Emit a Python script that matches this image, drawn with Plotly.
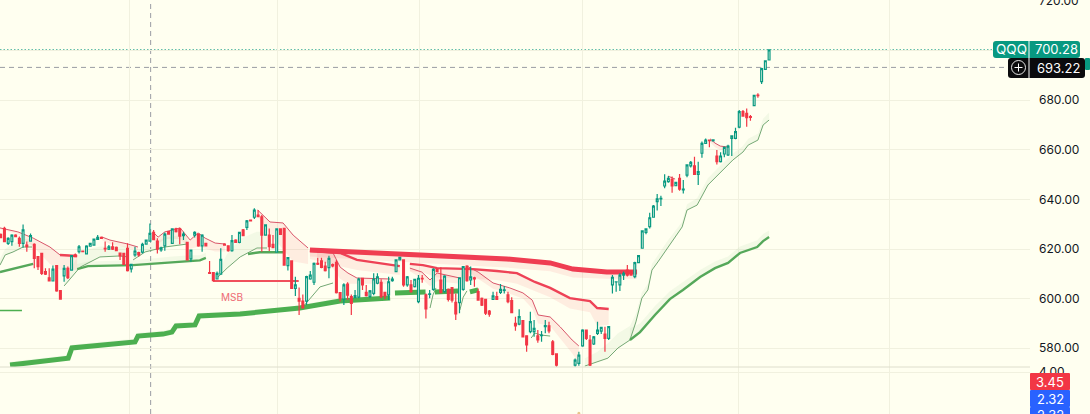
import plotly.graph_objects as go

WIDTH, HEIGHT = 1090, 414
PLOT_RIGHT = 1030
BAR_STEP = 3.73
BAR_ORIGIN = 0.7
PANE_SPLIT = 367

BG = "#fffff0"
GRID = "#f1f1df"
TEAL = "#089981"
RED = "#f23645"
BLUE = "#2962ff"
GREEN = "#4caf50"
THIN_GREEN = "#74a874"
THIN_RED = "#d9566a"
TEXT = "#131722"
FONT = "Inter"

# Daily OHLC for QQQ
opens = [
    625.9,628.3,622.3,623.0,625.6,624.3,622.3,621.6,623.2,621.9,
    616.9,618.2,610.9,608.4,607.1,613.3,603.2,609.2,612.2,611.5,
    617.6,618.9,619.2,618.0,621.1,621.6,623.9,624.7,620.3,619.9,
    620.9,620.7,618.3,618.2,620.3,612.0,617.6,618.5,618.7,622.0,
    623.2,626.7,623.2,619.6,621.3,627.0,622.3,628.1,628.1,625.4,
    622.7,616.0,625.6,626.0,621.3,622.3,610.5,610.5,607.9,609.9,
    622.0,621.3,619.3,623.6,622.7,627.7,628.7,631.7,632.8,633.7,
    633.0,625.6,625.6,621.9,618.7,628.1,628.3,613.3,615.2,604.1,
    600.1,599.0,599.0,607.9,606.6,614.2,615.2,613.1,612.5,613.7,
    614.6,602.4,599.8,605.8,600.8,600.4,600.6,608.2,602.5,600.9,
    602.1,606.2,606.6,602.5,601.5,607.2,610.9,615.6,615.6,605.5,
    605.5,604.8,598.8,608.2,601.5,601.7,603.7,611.8,607.5,602.8,
    603.7,604.4,598.5,598.4,603.7,613.1,607.5,608.4,602.8,600.1,
    599.7,595.0,599.7,600.8,602.5,603.3,601.5,599.2,590.0,589.7,
    591.1,585.0,586.7,586.7,585.0,585.1,588.7,589.0,582.6,577.7,
    571,567,565,566,573.2,573.9,580.9,587.3,583.3,581.7,
    586.0,586.9,585.7,584.0,605.5,606.7,605.5,609.5,611.5,611.3,
    608.9,614.5,620.3,626.7,629.0,632.8,639.1,640.2,645.4,647.2,
    648.1,645.5,648.5,643.8,649.8,653.5,653.5,650.1,658.6,662.6,
    663.9,663.6,657.5,655.2,658.3,657.9,664.6,664.6,669.1,675.4,
    674.7,673.4,677.8,682.1,687.5,692.4,696.2,
]
highs = [
    626.3,629.0,624.7,625.9,625.9,625.0,629.9,623.0,626.3,622.3,
    616.9,618.2,612.2,612.2,613.3,613.5,603.5,613.5,612.9,617.6,
    618.2,621.6,619.4,621.5,622.4,624.2,625.6,625.0,623.0,621.6,
    622.7,621.0,618.4,618.5,622.3,613.8,620.9,618.9,622.5,623.8,
    630.3,627.7,624.3,620.9,626.7,627.2,628.3,628.6,628.6,627.0,
    622.7,619.6,627.2,626.3,625.9,622.5,615.2,610.5,610.9,620.3,
    622.3,621.3,625.6,623.9,627.0,628.1,631.7,631.9,636.4,635.7,
    633.7,629.9,628.3,625.6,628.3,628.3,628.3,616.5,615.2,608.8,
    604.5,601.7,609.2,611.1,614.6,616.5,616.5,614.9,617.3,614.2,
    615.6,602.4,606.2,606.6,601.7,603.5,608.4,608.4,605.5,603.5,
    610.2,610.2,607.8,602.8,608.8,608.8,615.8,616.8,615.8,609.1,
    607.5,607.8,609.5,609.5,602.1,603.5,612.2,612.0,612.6,609.4,
    604.1,604.4,602.1,608.6,613.1,613.4,612.9,608.8,604.1,600.4,
    599.7,595.4,602.8,602.8,605.9,605.1,602.8,600.5,592.7,595.7,
    591.1,585.0,594.7,591.4,587.3,586.9,591.4,590.7,583.3,577.9,
    572,569,568,570,575.9,578.6,587.6,587.3,585.3,584.9,
    590.7,588.7,588.7,588.9,609.5,606.8,610.2,610.9,613.5,611.5,
    614.9,617.3,627.3,628.1,634.6,637.7,642.2,641.5,650.1,649.4,
    649.2,647.0,650.2,647.8,654.1,655.5,657.2,655.2,663.3,664.6,
    664.2,664.1,659.9,659.0,661.3,662.0,665.6,668.9,676.0,676.0,
    676.7,674.0,682.0,682.8,693.1,696.0,700.5,
]
lows = [
    624.3,622.7,621.6,621.3,624.8,620.9,620.5,618.9,623.0,612.2,
    611.5,609.5,609.5,607.1,607.1,602.8,599.7,606.8,607.9,611.5,
    616.9,618.2,618.9,618.0,621.0,621.4,623.6,624.2,618.9,619.6,
    619.6,619.3,615.6,613.5,610.9,610.5,616.9,616.9,618.2,621.8,
    622.9,623.6,618.2,618.9,619.3,626.0,622.0,626.7,621.9,623.6,
    615.6,614.9,624.6,620.9,618.9,621.2,610.0,607.2,607.8,609.9,
    621.6,618.9,618.9,622.7,622.3,625.3,627.7,631.3,632.1,633.0,
    618.9,625.4,619.2,620.5,618.5,625.9,613.3,611.3,603.9,601.0,
    593.4,596.1,597.4,607.6,605.5,613.5,612.2,610.9,608.2,612.6,
    602.1,598.8,597.4,599.4,593.4,600.1,600.1,603.5,600.8,600.1,
    601.4,605.8,600.1,599.7,599.4,606.8,610.7,615.6,604.8,604.8,
    602.4,604.5,598.1,606.4,592.0,600.1,603.2,610.9,602.1,602.4,
    598.8,598.4,591.4,594.1,603.2,606.8,605.5,604.8,599.2,597.0,
    593.4,592.7,599.4,599.4,601.9,602.1,598.1,594.1,587.0,589.3,
    584.4,578.6,586.0,584.6,582.2,582.6,586.0,586.0,577.2,572.5,
    566,563,562,564,572.5,572.9,580.6,583.3,572.8,581.3,
    585.3,585.7,578.6,583.3,602.1,602.8,603.1,607.5,608.9,609.5,
    608.2,614.4,620.3,625.9,628.3,632.6,635.5,637.3,644.5,646.7,
    642.7,645.3,643.5,642.4,648.9,652.9,650.0,645.8,656.8,662.3,
    661.0,663.5,654.1,654.9,657.0,657.5,657.5,664.3,668.7,673.4,
    669.3,671.7,677.8,681.0,686.5,692.4,696.2,
]
closes = [
    624.6,623.0,624.3,625.6,625.0,622.3,627.7,620.9,625.4,616.2,
    612.9,610.2,609.9,607.1,611.9,603.1,599.8,612.2,608.4,617.3,
    616.9,620.9,618.9,621.2,622.3,624.0,624.7,624.3,620.0,620.9,
    619.9,619.3,617.2,613.8,611.3,613.8,619.2,617.6,621.9,623.6,
    626.3,623.8,619.9,620.5,626.0,626.0,628.1,627.0,625.2,626.0,
    615.6,619.6,626.7,621.3,625.6,621.2,610.2,607.2,610.2,615.8,
    621.6,619.3,623.4,622.7,626.7,625.4,631.3,631.3,635.7,633.0,
    625.6,629.7,620.9,620.5,628.1,625.9,613.5,616.5,604.1,605.5,
    599.0,596.3,608.9,609.5,614.2,613.9,612.6,611.3,616.2,613.2,
    602.4,600.1,605.5,601.4,598.1,601.2,607.9,605.5,601.2,603.1,
    607.9,608.8,600.8,601.1,606.8,607.9,615.6,616.6,605.5,608.8,
    602.8,607.8,608.2,607.9,595.8,601.9,611.8,610.9,602.4,609.1,
    599.7,599.4,593.8,608.4,612.9,607.2,608.8,607.9,599.4,597.4,
    594.1,593.7,601.1,599.7,603.7,603.5,598.8,594.3,589.0,592.7,
    584.6,581.3,590.7,588.0,583.3,585.3,589.1,587.0,577.5,573.2,
    567,565,566,569,575.2,577.2,587.3,584.0,573.2,584.6,
    587.3,588.4,584.0,588.7,608.6,606.8,609.5,610.2,609.5,609.5,
    614.5,617.3,627.3,628.1,632.6,637.3,640.2,640.4,647.4,648.5,
    645.4,646.9,644.1,644.2,653.9,654.9,650.1,651.2,662.6,663.9,
    663.7,664.0,655.2,657.5,661.0,661.5,665.6,667.3,675.4,673.6,
    673.0,673.1,682.0,681.8,692.7,695.9,700.28,
]
bars = list(range(len(opens)))

# Long-anchored VWAP, heavy green
long_bars = [2.5,7.9,11.9,18.1,19.1,26.6,36,36.8,43.5,45.9,47,52.1,53.2,64.2,77.6,80.2,91,104.4]
long_vwap = [573.2,574.0,574.8,576.0,580.1,581.3,582.5,584.9,585.7,586.5,589.0,589.4,593.0,593.8,595.4,596.2,599.0,600.2]
long_edge = [574.5,575.3,576.1,577.3,581.4,582.6,583.8,586.2,587.0,587.8,590.3,590.7,594.3,595.1,596.7,597.5,600.3,601.5]
blob_a_bars = [105.7,113.9]
blob_a = [602.3,602.7]
blob_b_bars = [116.4,122.6]
blob_b = [602.7,603.1]
blob_c_bars = [125.8,128]
blob_c = [602.7,603.5]

# Medium green trend legs
mid_a_bars = [-0.2,5.2,8.7]
mid_a = [610.7,612.7,614.0]
mid_b_bars = [20.5,23.4,35.5,46.2,50.8,53.4,55]
mid_b = [611.9,613.1,613.5,614.8,615.2,615.4,616.4]
mid_b_edge = [614,615,615.5,617,617.5,617.5,618.5]
mid_c_bars = [66.3,69.5,75.7]
mid_c = [618.0,618.7,618.7]
mid_d_bars = [168.7,171.4,175.4,179.4,182.9,187.5,191.5,195,198.2,202.8,204.4,206]
mid_d = [583.3,586.5,593.4,599.8,603.5,608.7,612.3,614.4,618.4,620.8,623.2,624.8]
mid_d_edge = [588,590,597,603,606.5,611.5,615,617,621,623.5,626,627.5]

# Thin green trail legs
trail_a_bars = [-0.2,1.2,3.3,6,8.4]
trail_a = [613.5,617.6,618.8,620.8,620.8]
trail_a_edge = [616,620,622,624,624]
trail_b_bars = [17,19.1,21.3,26.6,32,34.2]
trail_b = [605.1,608.7,612.7,616.8,617.2,616.8]
trail_b_edge = [607,613,619,621,621,621]
trail_c_bars = [35.5,38.7,44,50]
trail_c = [615.6,618.8,620.8,622]
trail_c_edge = [617.5,621.5,624.5,626]
trail_d_bars = [58,60.7,64.2,68.7,71.4]
trail_d = [608.3,612.3,616.8,620.4,620.4]
trail_d_edge = [610,618,624,627,627]
trail_e_bars = [81,83,85.6,89.1]
trail_e = [596.6,600.2,604.7,606.3]
trail_f_bars = [115.1,115.9,116.7]
trail_f = [596.2,601.5,604.3]
trail_g_bars = [123.1,124,125]
trail_g = [595.4,600.6,603.1]
trail_h_bars = [142.2,143.2,144.9,147.3]
trail_h = [584.1,586.1,585.3,584.9]
trail_i_bars = [156.6,159.9,162.8,165.5,168.7,170.3,171.9,173.5,174.6,176.2,178.9,182.7,184,186.7,189.6,192.8,196.3,199,200.4,203,204.4,206]
trail_i = [572.8,574.4,576,580.1,583.3,590.6,600.2,603.5,611.5,614.8,620.8,628.9,635.7,637.7,645.8,650.6,655.9,659.1,661.9,663.9,670,672]
trail_i_edge = [576,578.5,582,586,589,594,602.5,606,614,617.5,623.5,631,638,640.5,648.5,653.5,658.5,661.5,664.5,666.5,672.5,675]
stub_bars = [-0.2,5.7]
stub = [595.2,595.2]

# Heavy and medium red reference lines
heavy_bars = [82.9,99.8,122.3,135.7,147.3,153.4,162.5,170.6]
heavy_red = [619.6,618.4,616.8,616,614.4,611.9,610.7,610.7]
heavy_edge = [617,615.5,613.5,612.5,611,608.5,608,608]
mid_red_a_bars = [82.9,91,95.5,100.9,107]
mid_red_a = [619.3,618.4,615.6,614.4,613.1]
mid_red_a_edge = [616,613,611.5,610.5,609.5]
mid_red_b_bars = [109.7,113.2,117,126.6,133,138.4,143.2,147.3,152.6,158,159.9,163]
mid_red_b = [614,613.5,612.3,611.9,611.1,610.3,606.7,604.3,600.2,599,596.2,595.8]
mid_red_b_edge = [611,610.5,608.5,608,607.5,606,603,600.5,596,594.5,589,589.5]
mid_red_c_bars = [15.9,20.5]
mid_red_c = [617.6,617.2]

# Thin red trail legs
down_a_bars = [-0.2,4.6,8.7,13.2,15.9,20.5]
down_a = [628.5,626.9,624.4,620.8,617.6,617.2]
down_a_edge = [628,626,621,614,611.5,611.5]
down_b_bars = [27.2,29.3,34.1,36.8]
down_b = [624.8,623.6,622,620.8]
down_b_edge = [623.5,622,620.5,619.5]
down_c_bars = [40.8,42.2,44,48.1,50.8,52.9,54.8,57.5,60.1]
down_c = [626.9,624.8,626.9,628.5,623.6,626.5,624.4,622.4,622]
down_c_edge = [624,622,624,624,620,621,620,619,619]
down_d_bars = [68.9,72.2,75.7,78.4,82.4]
down_d = [635.7,630.9,630.5,625.6,620.4]
down_d_edge = [633,626,620,615,614]
down_e_bars = [84.8,89.1,91,93.1,95.5,104.4]
down_e = [618.8,618.4,612.7,610.3,608.3,607.9]
down_e_edge = [617,612,608,606,606,606]
down_f_bars = [109.7,112.9,115.1,117,123.1]
down_f = [612.3,610.7,607.5,610.3,608.3]
down_f_edge = [611,608,605,607,606]
down_g_bars = [125,128,132,136.5,140,142.5,144.1,147.3,150,153.2,155]
down_g = [613.1,610.7,606.3,604.3,602.3,599.4,593.4,592.6,588.6,583.3,580.9]
down_g_edge = [611,608,604,602,600,596,590,589,584,578,574]
down_h_bars = [178.9,180.8]
down_h = [649.4,648.2]
down_h_edge = [648,647]
down_i_bars = [190.2,191.5,192.9,195]
down_i = [664.4,662.7,661.5,661.1]
down_i_edge = [663,661,660,660]

# Market-structure break level
msb_bars = [56.9,79.9]
msb_level = [607.1,607.1]
msb_label = "MSB"
msb_label_bar = 62.0
msb_label_price = 600.8

# Axis ticks and readouts
price_ticks = [580, 600, 620, 640, 660, 680, 700, 720]
price_tick_labels = ["580.00", "600.00", "620.00", "640.00", "660.00", "680.00", "", "720.00"]
lower_ticks = [4]
time_grid_bars = [34.4, 74.1, 112.2, 156.1, 197.9, 238.4]
cross_bar = 40.2
last_price = 700.28
cross_price = 693.22
ticker = "QQQ"
lower_readouts = ["3.45", "2.32", "2.32"]
lower_dot_bar = [155]
lower_dot = [1.42]

fig = go.Figure()


def band(xs, line_vals, edge_vals, colour):
    fig.add_trace(go.Scatter(x=xs + xs[::-1], y=line_vals + edge_vals[::-1], mode="lines",
                             line=dict(width=0), fill="toself", fillcolor=colour,
                             hoverinfo="skip", showlegend=False))


def stroke(xs, vals, colour, width):
    fig.add_trace(go.Scatter(x=xs, y=vals, mode="lines", line=dict(color=colour, width=width),
                             hoverinfo="skip", showlegend=False))


PALE_GREEN = "rgba(120,190,120,0.09)"
PALE_RED = "rgba(242,54,69,0.09)"

for xs, line_vals, edge in [
    (trail_a_bars, trail_a, trail_a_edge), (trail_b_bars, trail_b, trail_b_edge),
    (trail_c_bars, trail_c, trail_c_edge), (trail_d_bars, trail_d, trail_d_edge),
    (trail_i_bars, trail_i, trail_i_edge), (mid_d_bars, mid_d, mid_d_edge),
    (mid_b_bars, mid_b, mid_b_edge), (long_bars, long_vwap, long_edge),
]:
    band(xs, line_vals, edge, PALE_GREEN)

for xs, line_vals, edge in [
    (down_a_bars, down_a, down_a_edge), (down_b_bars, down_b, down_b_edge),
    (down_c_bars, down_c, down_c_edge), (down_d_bars, down_d, down_d_edge),
    (down_e_bars, down_e, down_e_edge), (down_f_bars, down_f, down_f_edge),
    (down_g_bars, down_g, down_g_edge), (down_h_bars, down_h, down_h_edge),
    (down_i_bars, down_i, down_i_edge), (heavy_bars, heavy_red, heavy_edge),
    (mid_red_a_bars, mid_red_a, mid_red_a_edge), (mid_red_b_bars, mid_red_b, mid_red_b_edge),
]:
    band(xs, line_vals, edge, PALE_RED)

for xs, vals in [(trail_a_bars, trail_a), (trail_b_bars, trail_b), (trail_c_bars, trail_c),
                 (trail_d_bars, trail_d), (trail_e_bars, trail_e), (trail_f_bars, trail_f),
                 (trail_g_bars, trail_g), (trail_h_bars, trail_h), (trail_i_bars, trail_i)]:
    stroke(xs, vals, THIN_GREEN, 1)
for xs, vals in [(mid_a_bars, mid_a), (mid_b_bars, mid_b), (mid_c_bars, mid_c), (mid_d_bars, mid_d)]:
    stroke(xs, vals, "#55a85a", 2.4)
for xs, vals in [(long_bars, long_vwap), (blob_a_bars, blob_a), (blob_b_bars, blob_b), (blob_c_bars, blob_c)]:
    stroke(xs, vals, GREEN, 5)
stroke(stub_bars, stub, GREEN, 1.5)

for xs, vals in [(down_a_bars, down_a), (down_b_bars, down_b), (down_c_bars, down_c),
                 (down_d_bars, down_d), (down_e_bars, down_e), (down_f_bars, down_f),
                 (down_g_bars, down_g), (down_h_bars, down_h), (down_i_bars, down_i)]:
    stroke(xs, vals, THIN_RED, 1)
for xs, vals in [(mid_red_a_bars, mid_red_a), (mid_red_b_bars, mid_red_b), (mid_red_c_bars, mid_red_c)]:
    stroke(xs, vals, "#ee4256", 2.4)
stroke(heavy_bars, heavy_red, "#ef3d52", 5)
stroke(msb_bars, msb_level, "#f0505c", 2)

fig.add_trace(go.Candlestick(
    x=bars, open=opens, high=highs, low=lows, close=closes,
    increasing=dict(line=dict(color=TEAL, width=1.2), fillcolor=BG),
    decreasing=dict(line=dict(color=RED, width=1.2), fillcolor=RED),
    hoverinfo="skip", showlegend=False, zorder=5,
))

fig.add_trace(go.Scatter(x=lower_dot_bar, y=lower_dot, xaxis="x2", yaxis="y2", mode="markers",
                         marker=dict(color="#e8c58a", size=3), hoverinfo="skip", showlegend=False))


def px_x(x):
    return x / WIDTH


def px_y(y):
    return 1 - y / HEIGHT


def round_box(x0, y0, x1, y1, colour, r=3):
    xa, xb = px_x(x0), px_x(x1)
    ya, yb = px_y(y0), px_y(y1)
    rx, ry = r / WIDTH, r / HEIGHT
    path = (f"M{xa + rx},{ya} L{xb - rx},{ya} Q{xb},{ya} {xb},{ya - ry} L{xb},{yb + ry} "
            f"Q{xb},{yb} {xb - rx},{yb} L{xa + rx},{yb} Q{xa},{yb} {xa},{yb + ry} "
            f"L{xa},{ya - ry} Q{xa},{ya} {xa + rx},{ya} Z")
    return dict(type="path", path=path, xref="paper", yref="paper", fillcolor=colour,
                line=dict(width=0), layer="above")


def plain_line(x0, y0, x1, y1, colour, width=1):
    return dict(type="line", xref="paper", yref="paper", x0=px_x(x0), x1=px_x(x1), y0=px_y(y0), y1=px_y(y1),
                line=dict(color=colour, width=width), layer="above")


shapes = [
    # price line and crosshair
    dict(type="line", xref="paper", yref="y", x0=0, x1=px_x(993), y0=last_price, y1=last_price,
         line=dict(color=TEAL, width=1, dash="1.5px,2px"), layer="below"),
    dict(type="line", xref="paper", yref="y", x0=0, x1=px_x(1008), y0=cross_price, y1=cross_price,
         line=dict(color="#9a9ca3", width=1, dash="5px,4px"), layer="below"),
    dict(type="line", xref="x", yref="paper", x0=cross_bar, x1=cross_bar, y0=0, y1=1,
         line=dict(color="#9a9ca3", width=1, dash="5px,4px"), layer="below"),
    # pane separator
    plain_line(0, PANE_SPLIT, 1030, PANE_SPLIT, "#dedecd"),
    # readout boxes
    round_box(1085, 58, 1090, 70, TEAL, r=1),
    round_box(993, 41, 1080, 58, TEAL),
    plain_line(1029, 41, 1029, 58, "#ffffff"),
    round_box(1008, 58, 1085, 78, "#0b0b0d"),
    plain_line(1029, 58, 1029, 78, "#ffffff"),
    dict(type="circle", xref="paper", yref="paper", x0=px_x(1011.5), x1=px_x(1025.5),
         y0=px_y(74.5), y1=px_y(60.5), line=dict(color="#e6e6e6", width=1), layer="above"),
    plain_line(1014.5, 67.5, 1022.5, 67.5, "#ffffff"),
    plain_line(1018.5, 63.5, 1018.5, 71.5, "#ffffff"),
    round_box(1030, 373, 1070, 390, RED, r=1),
    round_box(1030, 390, 1070, 407, BLUE, r=1),
    round_box(1030, 407, 1070, 424, BLUE, r=1),
]


def label(text, x, y, colour="#ffffff", size=13):
    return dict(text=text, xref="paper", yref="paper", x=px_x(x), y=px_y(y), showarrow=False,
                xanchor="center", yanchor="middle", font=dict(family=FONT, size=size, color=colour))


annotations = [
    label(ticker, 1011, 49, size=13.5),
    label(f"{last_price:.2f}", 1056, 49),
    label(f"{cross_price:.2f}", 1058, 68),
    label(lower_readouts[0], 1050, 381.5),
    label(lower_readouts[1], 1050, 398.5),
    label(lower_readouts[2], 1050, 415),
    dict(text=msb_label, x=msb_label_bar, y=msb_label_price, xref="x", yref="y", showarrow=False,
         font=dict(family=FONT, size=10, color="#ee6b74")),
]

x_left = -BAR_ORIGIN / BAR_STEP
x_right = (PLOT_RIGHT - BAR_ORIGIN) / BAR_STEP
top_price = 620 + 249 * 0.4032
split_price = 620 + (249 - PANE_SPLIT) * 0.4032
tick_font = dict(family=FONT, size=12, color=TEXT)

fig.update_layout(
    width=WIDTH, height=HEIGHT, margin=dict(l=0, r=0, t=0, b=0, autoexpand=False),
    paper_bgcolor=BG, plot_bgcolor=BG, showlegend=False, hovermode=False,
    xaxis=dict(domain=[0, PLOT_RIGHT / WIDTH], range=[x_left, x_right], rangeslider=dict(visible=False),
               tickvals=time_grid_bars, showticklabels=False, ticks="", gridcolor=GRID, gridwidth=1,
               showline=False, zeroline=False, anchor="y", automargin=False),
    xaxis2=dict(domain=[0, PLOT_RIGHT / WIDTH], range=[x_left, x_right], tickvals=time_grid_bars,
                showticklabels=False, ticks="", gridcolor=GRID, gridwidth=1, showline=False,
                zeroline=False, anchor="y2", automargin=False),
    yaxis=dict(domain=[1 - PANE_SPLIT / HEIGHT, 1], range=[split_price, top_price], side="right",
               tickvals=price_ticks, ticktext=price_tick_labels, ticks="", ticklen=0, ticklabelstandoff=8,
               ticklabeloverflow="allow", gridcolor=GRID, gridwidth=1, showline=False, zeroline=False,
               tickfont=tick_font, anchor="x", automargin=False),
    yaxis2=dict(domain=[0, 1 - PANE_SPLIT / HEIGHT], range=[1.375, 4.3125], side="right",
                tickvals=lower_ticks, tickformat=".2f", ticks="", ticklen=0, ticklabelstandoff=8,
                ticklabeloverflow="allow", gridcolor=GRID, gridwidth=1, showline=False, zeroline=False,
                tickfont=tick_font, anchor="x2", automargin=False),
    shapes=shapes, annotations=annotations,
)

fig.write_html("out.html", config=dict(displayModeBar=False))
